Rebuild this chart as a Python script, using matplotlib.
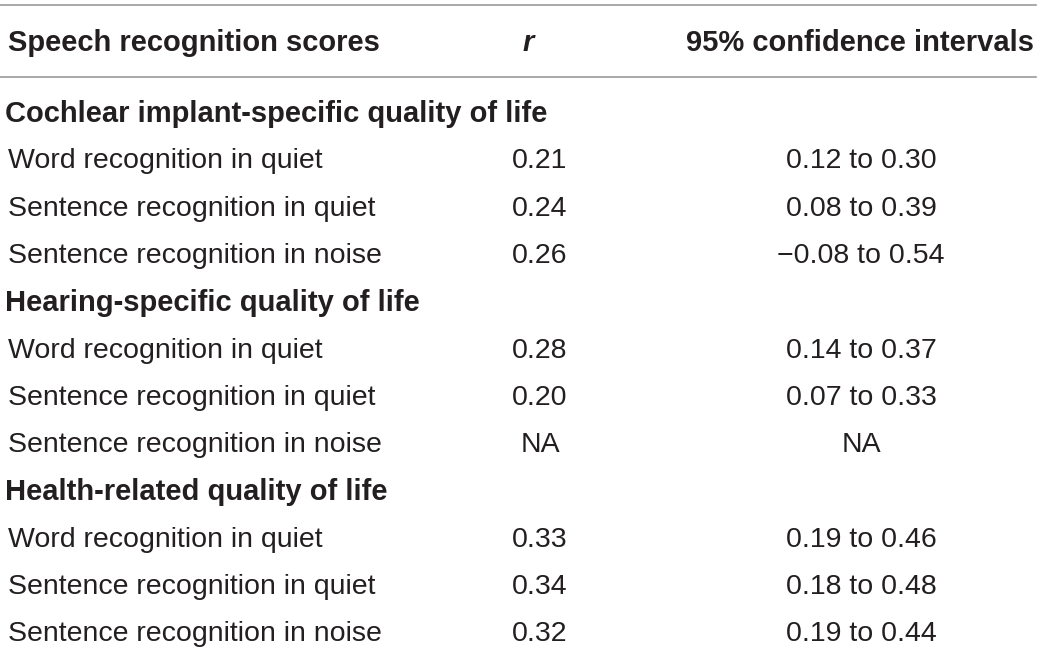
import matplotlib
matplotlib.use("Agg")
import matplotlib.pyplot as plt

header = ["Speech recognition scores", "r", "95% confidence intervals"]
sections = ["Cochlear implant-specific quality of life",
            "Hearing-specific quality of life",
            "Health-related quality of life"]
measures = ["Word recognition in quiet", "Sentence recognition in quiet",
            "Sentence recognition in noise"]
r_values = [["0.21", "0.24", "0.26"],
            ["0.28", "0.20", "NA"],
            ["0.33", "0.34", "0.32"]]
ci_values = [["0.12 to 0.30", "0.08 to 0.39", "\u22120.08 to 0.54"],
             ["0.14 to 0.37", "0.07 to 0.33", "NA"],
             ["0.19 to 0.46", "0.18 to 0.48", "0.19 to 0.44"]]

W, H = 1042, 654
fig = plt.figure(figsize=(W / 100, H / 100), dpi=100)
ax = fig.add_axes([0, 0, 1, 1])
ax.set_xlim(0, W)
ax.set_ylim(H, 0)
ax.axis("off")

plt.rcParams["font.family"] = ["Liberation Sans", "DejaVu Sans"]
tc = "#231f20"
fs = 20.5
fsb = 21
lc = "#9a9a9a"

ax.plot([0, 1036], [5, 5], color=lc, lw=1.2)
ax.plot([0, 1036], [77, 77], color=lc, lw=1.2)

hy = 43
ax.text(8, hy, header[0], fontsize=fsb, fontweight="bold", color=tc, va="center", ha="left")
ax.text(528, hy, header[1], fontsize=fsb, fontweight="bold", fontstyle="italic", color=tc, va="center", ha="center")
ax.text(1034, hy, header[2], fontsize=fsb, fontweight="bold", color=tc, va="center", ha="right")

y = 114
step = 47.3
for s, sec in enumerate(sections):
    ax.text(5, y, sec, fontsize=fsb, fontweight="bold", color=tc, va="center", ha="left")
    y += step
    for m, meas in enumerate(measures):
        ax.text(8, y, meas, fontsize=fs, color=tc, va="center", ha="left")
        ax.text(540, y, r_values[s][m], fontsize=fs, color=tc, va="center", ha="center")
        ax.text(861, y, ci_values[s][m], fontsize=fs, color=tc, va="center", ha="center")
        y += step

fig.savefig("out.png", dpi=100, facecolor="white")
